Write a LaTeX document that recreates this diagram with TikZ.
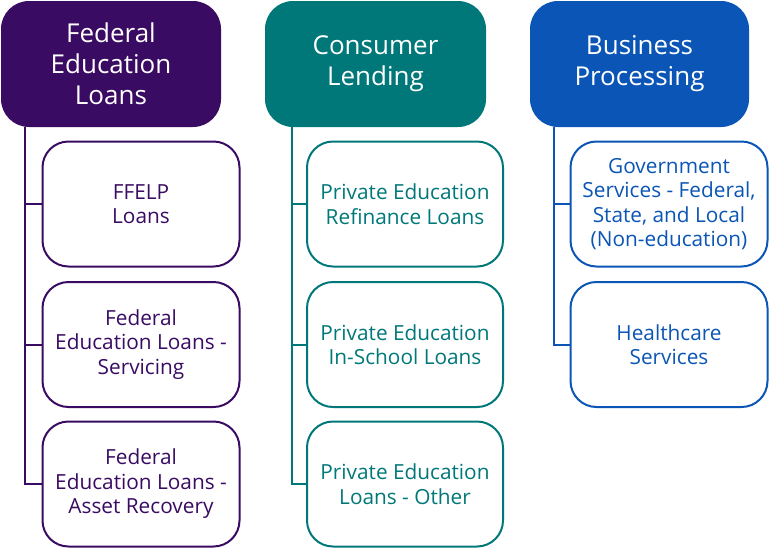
\documentclass[tikz,border=0pt]{standalone}
\usepackage{fontspec}
\setmainfont{Open Sans}
\definecolor{cpurple}{HTML}{3A0B63}
\definecolor{cteal}{HTML}{00787A}
\definecolor{cblue}{HTML}{0A55B5}
\tikzset{
  header/.style={fill=#1, draw=none, rounded corners=28pt, minimum width=220pt, minimum height=126pt,
    text=white, align=center, inner sep=0pt, font=\fontsize{26}{31}\selectfont},
  child/.style={draw=#1, line width=2pt, fill=white, rounded corners=26pt, minimum width=197pt, minimum height=125pt,
    text=#1, align=center, inner sep=0pt, font=\fontsize{20.8}{24.5}\selectfont},
  conn/.style={draw=#1, line width=2pt}
}
\begin{document}
\begin{tikzpicture}[x=1pt,y=-1pt]
\useasboundingbox (0,0) rectangle (770,550);
% headers
\node[header=cpurple] (h1) at (111,64) {Federal\\Education\\Loans};
\node[header=cteal, minimum width=221pt] (h2) at (375.5,64) {Consumer\\Lending};
\node[header=cblue, minimum width=219pt] (h3) at (639.5,64) {Business\\Processing};
% trunk coordinates
\coordinate (t1) at (25,127);
\coordinate (t2) at (292,127);
\coordinate (t3) at (554,127);
% connectors
\draw[conn=cpurple] (t1) |- (141,484);
\draw[conn=cteal] (t2) |- (405,484);
\draw[conn=cblue] (t3) |- (669,344.5);
% children col 1
\node[child=cpurple] (c11) at (141,204) {FFELP\\Loans};
\node[child=cpurple] (c12) at (141,344.5) {Federal\\Education Loans -\\Servicing};
\node[child=cpurple] (c13) at (141,484) {Federal\\Education Loans -\\Asset Recovery};
% children col 2
\node[child=cteal, minimum width=196pt] (c21) at (405,204) {Private Education\\Refinance Loans};
\node[child=cteal, minimum width=196pt] (c22) at (405,344.5) {Private Education\\In-School Loans};
\node[child=cteal, minimum width=196pt] (c23) at (405,484) {Private Education\\Loans - Other};
% children col 3
\node[child=cblue] (c31) at (669,204) {Government\\Services - Federal,\\State, and Local\\(Non-education)};
\node[child=cblue] (c32) at (669,344.5) {Healthcare\\Services};
% branches
\draw[conn=cpurple] (t1 |- c11.west) -- (c11.west);
\draw[conn=cpurple] (t1 |- c12.west) -- (c12.west);
\draw[conn=cteal] (t2 |- c21.west) -- (c21.west);
\draw[conn=cteal] (t2 |- c22.west) -- (c22.west);
\draw[conn=cblue] (t3 |- c31.west) -- (c31.west);
\end{tikzpicture}
\end{document}
